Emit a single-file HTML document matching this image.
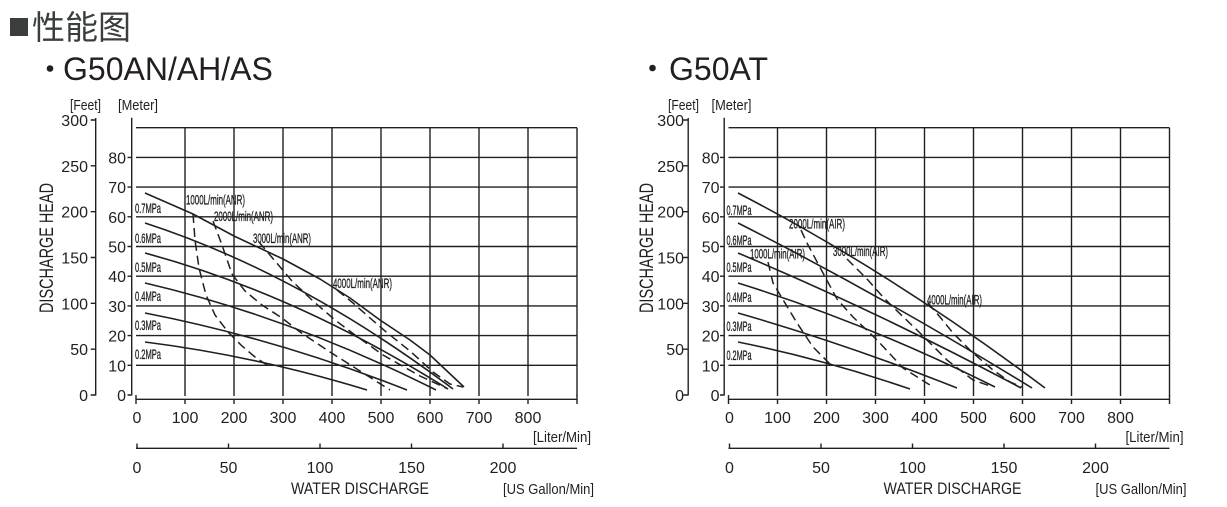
<!DOCTYPE html>
<html><head><meta charset="utf-8"><style>
html,body{margin:0;padding:0;background:#fff;}
svg{display:block;}
text{font-family:"Liberation Sans","Noto Sans CJK SC",sans-serif;fill:#231f20;}
.lbl text{stroke:#231f20;stroke-width:0.35px;}
</style></head><body>
<svg width="1227" height="507" viewBox="0 0 1227 507" xmlns="http://www.w3.org/2000/svg">
<rect x="0" y="0" width="1227" height="507" fill="#fff"/>
<!-- Title -->
<rect x="10" y="18" width="18" height="18" fill="#3a3e3c"/>
<text x="32" y="39" style="font-family:'Liberation Sans','Noto Sans CJK SC',sans-serif;font-size:33px;fill:#3a3e3c">性能图</text>
<circle cx="50" cy="68.5" r="3.3" fill="#231f20"/>
<text x="63" y="80" font-size="32">G50AN/AH/AS</text>
<circle cx="652.5" cy="68" r="3.3" fill="#231f20"/>
<text x="669" y="80" font-size="32">G50AT</text>

<defs>
<g id="axes">
  <g stroke="#231f20" stroke-width="1.4" fill="none">
    <path d="M136,127.7H577M136,157.4H577M136,187.1H577M136,216.8H577M136,246.5H577M136,276.2H577M136,305.9H577M136,335.6H577M136,365.3H577"/>
    <path d="M185,127.7V396M234,127.7V396M283,127.7V396M332,127.7V396M381,127.7V396M430,127.7V396M479,127.7V396M528,127.7V396M577,127.7V396"/>
    <path d="M131.7,117.7V395.5M127.5,395H131.7M127.5,365.3H131.7M127.5,335.6H131.7M127.5,305.9H131.7M127.5,276.2H131.7M127.5,246.5H131.7M127.5,216.8H131.7M127.5,187.1H131.7M127.5,157.4H131.7"/>
    <path d="M95.7,118V395.5M90.7,395H95.7M90.7,349.2H95.7M90.7,303.3H95.7M90.7,257.5H95.7M90.7,211.7H95.7M90.7,165.8H95.7M90.7,120H95.7"/>
    <path d="M136,399.3H577M136,395V404M185,399.3V404M234,399.3V404M283,399.3V404M332,399.3V404M381,399.3V404M430,399.3V404M479,399.3V404M528,399.3V404M577,395V404"/>
    <path d="M136,448.3H577M137,443.5V448.3M228.5,443.5V448.3M320,443.5V448.3M411.5,443.5V448.3M503,443.5V448.3"/>
  </g>
  <g font-size="16" text-anchor="middle">
    <text x="137" y="423">0</text><text x="185" y="423">100</text><text x="234" y="423">200</text><text x="283" y="423">300</text><text x="332" y="423">400</text><text x="381" y="423">500</text><text x="430" y="423">600</text><text x="479" y="423">700</text><text x="528" y="423">800</text>
    <text x="137" y="473">0</text><text x="228.5" y="473">50</text><text x="320" y="473">100</text><text x="411.5" y="473">150</text><text x="503" y="473">200</text>
  </g>
  <text x="591" y="442" font-size="15" text-anchor="end" textLength="58" lengthAdjust="spacingAndGlyphs">[Liter/Min]</text>
  <text x="291" y="494" font-size="17" textLength="138" lengthAdjust="spacingAndGlyphs">WATER DISCHARGE</text>
  <text x="503" y="494" font-size="15" textLength="91" lengthAdjust="spacingAndGlyphs">[US Gallon/Min]</text>
</g>
</defs>

<use href="#axes"/>
<g transform="translate(592.5,0)"><use href="#axes"/></g>

<!-- Left Y labels -->
<g font-size="16" text-anchor="end">
  <text x="126" y="163.4">80</text><text x="126" y="193.1">70</text><text x="126" y="222.8">60</text><text x="126" y="252.5">50</text><text x="126" y="282.2">40</text><text x="126" y="311.9">30</text><text x="126" y="341.6">20</text><text x="126" y="371.3">10</text><text x="126" y="401">0</text>
  <text x="88" y="126">300</text><text x="88" y="171.8">250</text><text x="88" y="217.7">200</text><text x="88" y="263.5">150</text><text x="88" y="309.3">100</text><text x="88" y="355.2">50</text><text x="88" y="401">0</text>
</g>
<text x="70" y="110" font-size="15" textLength="31" lengthAdjust="spacingAndGlyphs">[Feet]</text>
<text x="118" y="110" font-size="15" textLength="40" lengthAdjust="spacingAndGlyphs">[Meter]</text>
<text transform="translate(53,248) rotate(-90)" font-size="19" text-anchor="middle" textLength="130" lengthAdjust="spacingAndGlyphs">DISCHARGE HEAD</text>

<!-- Right Y labels -->
<g font-size="16" text-anchor="end">
  <text x="719.5" y="163.4">80</text><text x="719.5" y="193.1">70</text><text x="719.5" y="222.8">60</text><text x="719.5" y="252.5">50</text><text x="719.5" y="282.2">40</text><text x="719.5" y="311.9">30</text><text x="719.5" y="341.6">20</text><text x="719.5" y="371.3">10</text><text x="719.5" y="401">0</text>
  <text x="684" y="126">300</text><text x="684" y="171.8">250</text><text x="684" y="217.7">200</text><text x="684" y="263.5">150</text><text x="684" y="309.3">100</text><text x="684" y="355.2">50</text><text x="684" y="401">0</text>
</g>
<text x="668" y="110" font-size="15" textLength="31" lengthAdjust="spacingAndGlyphs">[Feet]</text>
<text x="711.5" y="110" font-size="15" textLength="40" lengthAdjust="spacingAndGlyphs">[Meter]</text>
<text transform="translate(653,248) rotate(-90)" font-size="19" text-anchor="middle" textLength="130" lengthAdjust="spacingAndGlyphs">DISCHARGE HEAD</text>

<!-- LEFT CURVES -->
<g stroke="#231f20" stroke-width="1.6" fill="none" stroke-linejoin="round">
  <path d="M145,193L193,214L234,236L283,259L320,279L350,298L380,320L410,340L430,355L447,371L464,387"/>
  <path d="M145,223Q299,273 453,389"/>
  <path d="M145,253Q296.5,294 448,389"/>
  <path d="M145,283Q290.5,317 436,390"/>
  <path d="M145,313Q276,338.5 407,390"/>
  <path d="M145,342Q256,356 367,390"/>
</g>
<g stroke="#231f20" stroke-width="1.5" fill="none" stroke-dasharray="9,5">
  <path d="M193,214L195,240L199,268L206,295L215,315L228,332L242,346L255,357L270,367"/>
  <path d="M213,221L222,245L232,274L245,291L262,305L282,318L300,332L330,352L360,371L390,390"/>
  <path d="M259,242L275,261L292,281L313,301L335,320L355,335L383,355L420,376L448,389"/>
  <path d="M337,290L353,303L370,318L385,331L410,351L433,372L450,384L463,387"/>
</g>
<g class="lbl" font-size="14">
  <text x="186" y="204.5" textLength="59" lengthAdjust="spacingAndGlyphs">1000L/min(ANR)</text>
  <text x="214" y="221" textLength="59" lengthAdjust="spacingAndGlyphs">2000L/min(ANR)</text>
  <text x="253" y="243" textLength="58" lengthAdjust="spacingAndGlyphs">3000L/min(ANR)</text>
  <text x="333" y="288" textLength="59" lengthAdjust="spacingAndGlyphs">4000L/min(ANR)</text>
  <text x="135" y="213" textLength="26" lengthAdjust="spacingAndGlyphs">0.7MPa</text>
  <text x="135" y="243" textLength="26" lengthAdjust="spacingAndGlyphs">0.6MPa</text>
  <text x="135" y="272" textLength="26" lengthAdjust="spacingAndGlyphs">0.5MPa</text>
  <text x="135" y="301" textLength="26" lengthAdjust="spacingAndGlyphs">0.4MPa</text>
  <text x="135" y="330" textLength="26" lengthAdjust="spacingAndGlyphs">0.3MPa</text>
  <text x="135" y="359" textLength="26" lengthAdjust="spacingAndGlyphs">0.2MPa</text>
</g>

<!-- RIGHT CURVES -->
<g stroke="#231f20" stroke-width="1.6" fill="none" stroke-linejoin="round">
  <path d="M738,193Q891.5,272.5 1045,388"/>
  <path d="M738,223Q885,297.5 1032,388"/>
  <path d="M738,253Q879.5,312.5 1021,388"/>
  <path d="M738,283Q866.5,323 995,387"/>
  <path d="M738,313Q847.5,344.5 957,388"/>
  <path d="M738,342Q824,359.5 910,389"/>
</g>
<g stroke="#231f20" stroke-width="1.5" fill="none" stroke-dasharray="9,5">
  <path d="M768,262L773,283L782,298L797,323L813,347L833,367"/>
  <path d="M801,230L807,243L823,273L837,299L853,317L877,340L903,368L933,387"/>
  <path d="M847,259L867,279L883,297L893,307L920,333L947,360L973,380L990,386"/>
  <path d="M928,303L940,317L953,333L973,353L993,370L1010,382L1022,387"/>
</g>
<g class="lbl" font-size="14">
  <text x="789" y="228.5" textLength="56" lengthAdjust="spacingAndGlyphs">2000L/min(AIR)</text>
  <text x="750" y="258.5" textLength="55" lengthAdjust="spacingAndGlyphs">1000L/min(AIR)</text>
  <text x="833" y="256" textLength="55" lengthAdjust="spacingAndGlyphs">3000L/min(AIR)</text>
  <text x="927" y="304.5" textLength="55" lengthAdjust="spacingAndGlyphs">4000L/min(AIR)</text>
  <text x="726.5" y="215" textLength="25" lengthAdjust="spacingAndGlyphs">0.7MPa</text>
  <text x="726.5" y="245" textLength="25" lengthAdjust="spacingAndGlyphs">0.6MPa</text>
  <text x="726.5" y="272" textLength="25" lengthAdjust="spacingAndGlyphs">0.5MPa</text>
  <text x="726.5" y="302" textLength="25" lengthAdjust="spacingAndGlyphs">0.4MPa</text>
  <text x="726.5" y="331" textLength="25" lengthAdjust="spacingAndGlyphs">0.3MPa</text>
  <text x="726.5" y="360" textLength="25" lengthAdjust="spacingAndGlyphs">0.2MPa</text>
</g>
</svg>
</body></html>
